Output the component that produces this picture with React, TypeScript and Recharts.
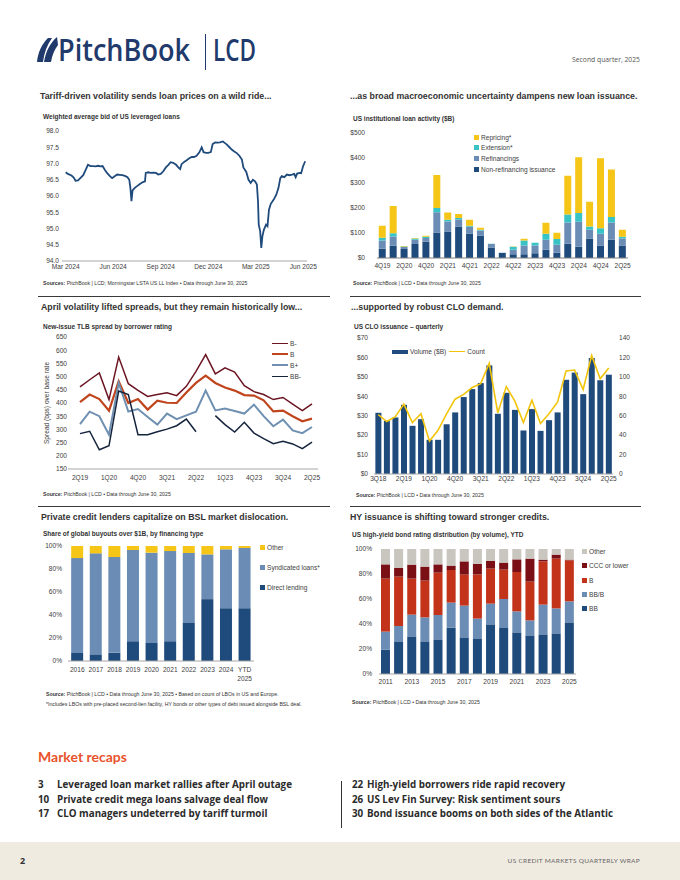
import React from "react"
import { Bar, BarChart, ComposedChart, Legend, Line, LineChart, XAxis, YAxis } from "recharts"

const ARIAL = "'Liberation Sans', Arial, Helvetica, sans-serif"
const HUMANIST = "Lato, 'Open Sans', sans-serif"
const OPEN = "'Open Sans', Lato, sans-serif"

const NAVY = "#1f4a7c"
const STEEL = "#6b8db5"
const GOLD = "#f5c518"
const TEAL = "#38c3c6"
const RED = "#c2331a"
const MAROON = "#7a1015"
const STONE = "#c9c5bf"
const INK = "#333333"
const TICK = { fontSize: 6.6, fill: "#404040", fontFamily: ARIAL }

// weighted average bid, x = weeks since 1 Mar 2024
const bidWeeks = [
  0, 0.6, 1.6, 2.2, 2.7, 3.4, 4.0, 4.8, 5.5, 6.1,
  6.8, 7.5, 8.2, 8.9, 9.5, 10.1, 10.7, 11.3, 12.1, 12.7,
  13.4, 14.1, 14.8, 15.5, 16.2, 16.9, 17.4, 17.7, 18.0, 18.3,
  18.9, 19.7, 20.3, 21.0, 21.7, 21.9, 22.6, 23.2, 24.0, 24.7,
  25.3, 26.0, 26.7, 27.4, 28.1, 28.7, 29.4, 30.2, 30.8, 31.3,
  31.7, 32.4, 33.1, 33.8, 34.5, 35.1, 35.8, 36.6, 37.2, 37.7,
  38.4, 39.0, 39.7, 40.2, 40.9, 41.5, 42.2, 43.0, 43.3, 44.1,
  44.8, 45.4, 46.1, 46.8, 47.5, 48.2, 48.6, 49.4, 50.0, 50.6,
  51.2, 51.8, 52.3, 52.6, 52.8, 53.2, 53.5, 53.8, 54.2, 54.8,
  55.2, 55.6, 56.1, 56.9, 57.6, 58.2, 58.7, 59.1, 59.8, 60.5,
  61.2, 61.9, 62.5, 62.9, 63.3, 64.0, 64.4, 64.9, 65.5,
]
const bidValues = [
  96.73, 96.68, 96.63, 96.57, 96.47, 96.48, 96.55, 96.64, 96.81, 96.96,
  96.92, 96.92, 96.91, 96.93, 96.91, 96.92, 96.81, 96.71, 96.61, 96.55,
  96.61, 96.66, 96.65, 96.64, 96.62, 96.58, 96.5, 96.25, 95.84, 96.17,
  96.25, 96.32, 96.37, 96.42, 96.45, 96.71, 96.73, 96.71, 96.72, 96.71,
  96.66, 96.68, 96.76, 96.88, 96.96, 97.04, 97.02, 96.96, 96.88, 96.83,
  96.98, 97.05, 97.1, 97.16, 97.2, 97.2, 97.24, 97.35, 97.5, 97.35,
  97.33, 97.33, 97.35, 97.6, 97.65, 97.64, 97.65, 97.68, 97.65, 97.58,
  97.5, 97.43, 97.37, 97.32, 97.24, 97.12, 96.88, 96.74, 96.5, 96.4,
  96.5, 96.45, 96.35, 95.84, 95.12, 94.91, 94.4, 94.76, 94.96, 95.12,
  95.07, 95.58, 95.76, 95.89, 96.04, 96.25, 96.55, 96.61, 96.58, 96.66,
  96.64, 96.66, 96.68, 96.58, 96.69, 96.71, 96.7, 96.91, 97.07,
]
const bidTickWeeks = [0, 13, 26, 39, 52, 65]
const bidTickLabels = ["Mar 2024", "Jun 2024", "Sep 2024", "Dec 2024", "Mar 2025", "Jun 2025"]
const bidAxisTicks = [94, 94.5, 95, 95.5, 96, 96.5, 97, 97.5, 98]

// US institutional loan activity ($B)
const loanQuarters = [
  "4Q19", "1Q20", "2Q20", "3Q20", "4Q20", "1Q21", "2Q21", "3Q21", "4Q21", "1Q22", "2Q22", "3Q22",
  "4Q22", "1Q23", "2Q23", "3Q23", "4Q23", "1Q24", "2Q24", "3Q24", "4Q24", "1Q25", "2Q25",
]
const nonRefinancing = [37, 49, 36, 56, 65, 102, 106, 126, 98, 90, 42, 20, 15, 15, 19, 33, 21, 57, 45, 78, 50, 73, 50]
const refinancings = [33, 37, 8, 17, 15, 81, 40, 28, 27, 20, 14, 1, 18, 35, 31, 40, 32, 85, 100, 35, 47, 69, 28]
const extensions = [11, 13, 2, 5, 5, 17, 7, 6, 4, 3, 1, 0, 12, 20, 11, 24, 23, 32, 35, 13, 22, 22, 7]
const repricings = [48, 109, 2, 2, 4, 132, 29, 16, 24, 8, 0, 0, 1, 7, 0, 44, 25, 155, 223, 99, 280, 190, 28]
const loanAxisTicks = [0, 100, 200, 300, 400, 500]

// new-issue TLB spread (bps)
const spreadQuarters = [
  "2Q19", "3Q19", "4Q19", "1Q20", "2Q20", "3Q20", "4Q20", "1Q21", "2Q21", "3Q21", "4Q21", "1Q22", "2Q22",
  "3Q22", "4Q22", "1Q23", "2Q23", "3Q23", "4Q23", "1Q24", "2Q24", "3Q24", "4Q24", "1Q25", "2Q25",
]
const spreadBMinus = [461, 488, 514, 413, 574, 473, 448, 425, 432, 439, 428, 463, 520, 583, 510, 533, 517, 466, 443, 432, 413, 421, 396, 371, 397]
const spreadB = [403, 432, 415, 371, 482, 400, 415, 375, 409, 401, 400, 440, 476, 504, 476, 459, 447, 430, 428, 410, 368, 371, 350, 331, 341]
const spreadBPlus = [320, 367, 350, 280, 476, 368, 377, 347, 318, 360, 339, 353, 367, 447, 372, 379, 370, 360, 394, 350, 312, 337, 296, 286, 309]
const spreadBBMinus: (number | null)[] = [284, 293, 223, 238, 445, 432, 280, 280, 291, 301, 314, 339, 291, null, 352, 318, 290, 327, 286, 265, 246, 255, 245, 227, 252]
const spreadAxisTicks = [150, 200, 250, 300, 350, 400, 450, 500, 550, 600, 650]

// US CLO issuance
const cloQuarters = [
  "3Q18", "4Q18", "1Q19", "2Q19", "3Q19", "4Q19", "1Q20", "2Q20", "3Q20", "4Q20", "1Q21", "2Q21", "3Q21", "4Q21",
  "1Q22", "2Q22", "3Q22", "4Q22", "1Q23", "2Q23", "3Q23", "4Q23", "1Q24", "2Q24", "3Q24", "4Q24", "1Q25", "2Q25",
]
const cloVolume = [31.5, 27.4, 29.1, 35.6, 24.8, 28.2, 17.6, 17.6, 25.6, 31.7, 39.6, 43.7, 46.8, 55.9, 31.0, 41.8, 33.0, 22.4, 33.4, 22.2, 27.7, 31.7, 48.5, 52.2, 41.1, 59.7, 48.2, 51.1]
const cloCount = [61, 54, 59, 72, 53, 62, 34, 45, 62, 77, 82, 89, 93, 114, 63, 90, 75, 53, 76, 52, 62, 74, 106, 107, 87, 122, 98, 109]
const cloVolumeTicks = [0, 10, 20, 30, 40, 50, 60, 70]
const cloCountTicks = [0, 20, 40, 60, 80, 100, 120, 140]

// share of global buyouts over $1B (%)
const buyoutYears = ["2016", "2017", "2018", "2019", "2020", "2021", "2022", "2023", "2024", "YTD 2025"]
const directLending = [7.0, 5.8, 7.3, 17.2, 15.7, 17.2, 33.1, 53.8, 45.9, 45.9]
const syndicatedLoans = [82.5, 87.8, 83.1, 79.3, 78.5, 78.4, 60.8, 38.9, 51.2, 52.4]
const otherFinancing = [10.5, 6.4, 9.6, 3.5, 5.8, 4.4, 6.1, 7.3, 2.9, 1.7]

// US high-yield rating distribution (%)
const hyYears = ["2011", "2012", "2013", "2014", "2015", "2016", "2017", "2018", "2019", "2020", "2021", "2022", "2023", "2024", "2025"]
const hyBB = [19.5, 26.1, 30.1, 26.1, 27.7, 37.1, 29.3, 28.5, 39.7, 37.3, 33.3, 30.9, 31.7, 32.5, 41.3]
const hyBBB = [14.4, 12.3, 17.4, 19.2, 19.5, 20.0, 25.4, 15.8, 16.6, 22.7, 16.8, 12.0, 23.8, 20.0, 16.8]
const hyB = [42.4, 39.5, 28.8, 29.4, 33.9, 26.1, 24.8, 35.4, 28.0, 23.5, 31.5, 31.0, 34.6, 39.8, 32.8]
const hyCCC = [11.4, 6.9, 11.2, 11.2, 6.6, 3.5, 10.6, 8.3, 6.1, 5.6, 10.1, 18.4, 1.4, 3.2, 0.6]
const hyOther = [12.3, 15.2, 12.5, 14.1, 12.3, 13.3, 9.9, 12.0, 9.6, 10.9, 8.3, 7.7, 8.5, 4.5, 8.5]
const shareTicks = [0, 20, 40, 60, 80, 100]

const recapLeft = [
  ["3", "Leveraged loan market rallies after April outage"],
  ["10", "Private credit mega loans salvage deal flow"],
  ["17", "CLO managers undeterred by tariff turmoil"],
]
const recapRight = [
  ["22", "High-yield borrowers ride rapid recovery"],
  ["26", "US Lev Fin Survey: Risk sentiment sours"],
  ["30", "Bond issuance booms on both sides of the Atlantic"],
]

function Text({ x, y, size, bold, color = INK, font = ARIAL, spacing, children }: any) {
  return (
    <div
      style={{
        position: "absolute",
        left: x,
        top: y - size * 0.6,
        fontSize: size,
        lineHeight: `${size * 1.2}px`,
        fontWeight: bold ? 700 : 400,
        color,
        fontFamily: font,
        letterSpacing: spacing,
        whiteSpace: "nowrap",
      }}
    >
      {children}
    </div>
  )
}

function Place({ x, y, children }: any) {
  return <div style={{ position: "absolute", left: x, top: y }}>{children}</div>
}

function Rule({ x1, x2, y }: any) {
  return <div style={{ position: "absolute", left: x1, top: y, width: x2 - x1, height: 1, background: "#3a3a3a" }} />
}

function SwatchLegend({ payload, order, rowHeight }: any) {
  const items = order.map((key: string) => (payload || []).find((p: any) => p.dataKey === key)).filter(Boolean)
  return (
    <div style={{ fontFamily: ARIAL, fontSize: 6.6, color: "#404040" }}>
      {items.map((entry: any) => (
        <div key={entry.dataKey} style={{ display: "flex", alignItems: "center", height: rowHeight }}>
          <span style={{ width: 5, height: 5, background: entry.color, marginRight: 2, flex: "none" }} />
          <span style={{ whiteSpace: "nowrap" }}>{entry.value}</span>
        </div>
      ))}
    </div>
  )
}

const spreadLineWidths: Record<string, number> = { bMinus: 1.5, b: 2.2, bPlus: 2, bbMinus: 1.5 }

function LineKey({ payload, order }: any) {
  const items = order.map((key: string) => (payload || []).find((p: any) => p.dataKey === key)).filter(Boolean)
  return (
    <div style={{ fontFamily: ARIAL, fontSize: 6.6, color: "#404040" }}>
      {items.map((entry: any) => (
        <div key={entry.dataKey} style={{ display: "flex", alignItems: "center", height: 11 }}>
          <span style={{ width: 16, height: 0, borderTop: `${spreadLineWidths[entry.dataKey]}px solid ${entry.color}`, marginRight: 2 }} />
          <span>{entry.value}</span>
        </div>
      ))}
    </div>
  )
}

function CloKey({ payload }: any) {
  const volume = (payload || []).find((p: any) => p.dataKey === "volume")
  const count = (payload || []).find((p: any) => p.dataKey === "count")
  return (
    <div style={{ display: "flex", alignItems: "center", fontFamily: ARIAL, fontSize: 6.6, color: "#404040" }}>
      {volume && (
        <>
          <span style={{ width: 16, height: 4, background: volume.color, marginRight: 2 }} />
          <span style={{ marginRight: 3 }}>{volume.value}</span>
        </>
      )}
      {count && (
        <>
          <span style={{ width: 16, height: 0, borderTop: `1.5px solid ${count.color}`, marginRight: 2 }} />
          <span>{count.value}</span>
        </>
      )}
    </div>
  )
}

function BidChart() {
  const data = bidWeeks.map((week, i) => ({ week, bid: bidValues[i] }))
  return (
    <LineChart width={290} height={155} data={data} margin={{ top: 9, right: 13, bottom: 0, left: 0 }}>
      <XAxis
        type="number"
        dataKey="week"
        domain={[-1, 66]}
        ticks={bidTickWeeks}
        interval={0}
        tickFormatter={(w: number) => bidTickLabels[bidTickWeeks.indexOf(w)]}
        tick={TICK}
        tickLine={false}
        tickSize={0}
        tickMargin={3}
        stroke="#a6a6a6"
        height={16}
      />
      <YAxis
        domain={[94, 98]}
        ticks={bidAxisTicks}
        interval={0}
        tickFormatter={(v: number) => v.toFixed(1)}
        tick={TICK}
        axisLine={false}
        tickLine={false}
        tickSize={0}
        tickMargin={3}
        width={32}
      />
      <Line type="linear" dataKey="bid" stroke={NAVY} strokeWidth={1.8} dot={false} isAnimationActive={false} />
    </LineChart>
  )
}

function LoanActivityChart() {
  const data = loanQuarters.map((quarter, i) => ({
    quarter,
    nonRefinancing: nonRefinancing[i],
    refinancings: refinancings[i],
    extensions: extensions[i],
    repricings: repricings[i],
  }))
  return (
    <BarChart width={300} height={149} data={data} margin={{ top: 8, right: 17, bottom: 0, left: 0 }} barCategoryGap="16%">
      <XAxis dataKey="quarter" interval={1} tick={TICK} tickLine={false} tickSize={0} tickMargin={5} stroke="#808080" height={16} />
      <YAxis
        domain={[0, 500]}
        ticks={loanAxisTicks}
        interval={0}
        tickFormatter={(v: number) => `$${v}`}
        tick={TICK}
        axisLine={false}
        tickLine={false}
        tickSize={0}
        tickMargin={12}
        width={32}
      />
      <Legend
        layout="vertical"
        align="center"
        verticalAlign="middle"
        wrapperStyle={{ left: 129, top: 7, width: 120, height: 44 }}
        content={(props: any) => (
          <SwatchLegend payload={props.payload} order={["repricings", "extensions", "refinancings", "nonRefinancing"]} rowHeight={10.6} />
        )}
      />
      <Bar dataKey="nonRefinancing" name="Non-refinancing issuance" stackId="loans" fill={NAVY} isAnimationActive={false} />
      <Bar dataKey="refinancings" name="Refinancings" stackId="loans" fill={STEEL} isAnimationActive={false} />
      <Bar dataKey="extensions" name="Extension*" stackId="loans" fill={TEAL} isAnimationActive={false} />
      <Bar dataKey="repricings" name="Repricing*" stackId="loans" fill={GOLD} isAnimationActive={false} />
    </BarChart>
  )
}

function SpreadChart() {
  const data = spreadQuarters.map((quarter, i) => ({
    quarter,
    bMinus: spreadBMinus[i],
    b: spreadB[i],
    bPlus: spreadBPlus[i],
    bbMinus: spreadBBMinus[i],
  }))
  return (
    <LineChart width={300} height={155} data={data} margin={{ top: 7, right: 12, bottom: 0, left: 0 }}>
      <XAxis
        dataKey="quarter"
        scale="point"
        padding={{ left: 12, right: 6 }}
        interval={2}
        tick={TICK}
        tickLine={false}
        tickSize={0}
        tickMargin={6}
        stroke="#a6a6a6"
        height={16}
      />
      <YAxis
        domain={[150, 650]}
        ticks={spreadAxisTicks}
        interval={0}
        tick={TICK}
        axisLine={false}
        tickLine={false}
        tickSize={0}
        tickMargin={1}
        width={38}
        label={{
          value: "Spread (bps) over base rate",
          angle: -90,
          position: "insideLeft",
          offset: 17,
          style: { textAnchor: "middle", fontSize: 6.6, fill: "#404040", fontFamily: ARIAL },
        }}
      />
      <Legend
        layout="vertical"
        align="center"
        verticalAlign="middle"
        wrapperStyle={{ left: 242, top: 7.5, width: 50, height: 44 }}
        content={(props: any) => <LineKey payload={props.payload} order={["bMinus", "b", "bPlus", "bbMinus"]} />}
      />
      <Line type="linear" dataKey="bMinus" name="B-" stroke="#6b1522" strokeWidth={1.5} dot={false} isAnimationActive={false} />
      <Line type="linear" dataKey="b" name="B" stroke="#c0451d" strokeWidth={2.2} dot={false} isAnimationActive={false} />
      <Line type="linear" dataKey="bPlus" name="B+" stroke="#6f90b1" strokeWidth={2} dot={false} isAnimationActive={false} />
      <Line type="linear" dataKey="bbMinus" name="BB-" stroke="#15243d" strokeWidth={1.5} dot={false} isAnimationActive={false} />
    </LineChart>
  )
}

function CloChart() {
  const data = cloQuarters.map((quarter, i) => ({ quarter, volume: cloVolume[i], count: cloCount[i] }))
  return (
    <ComposedChart width={300} height={157} data={data} margin={{ top: 5, right: 0, bottom: 0, left: 0 }} barCategoryGap="16%">
      <XAxis dataKey="quarter" interval={2} tick={TICK} tickLine={false} tickSize={0} tickMargin={2.5} stroke="#a6a6a6" height={16} />
      <YAxis
        yAxisId="volume"
        domain={[0, 70]}
        ticks={cloVolumeTicks}
        interval={0}
        tickFormatter={(v: number) => `$${v}`}
        tick={TICK}
        axisLine={false}
        tickLine={false}
        tickSize={0}
        tickMargin={6}
        width={29}
      />
      <YAxis
        yAxisId="count"
        orientation="right"
        domain={[0, 140]}
        ticks={cloCountTicks}
        interval={0}
        tick={TICK}
        axisLine={false}
        tickLine={false}
        tickSize={0}
        tickMargin={6}
        width={32}
      />
      <Legend
        layout="vertical"
        align="center"
        verticalAlign="middle"
        wrapperStyle={{ left: 47, top: 15, width: 120, height: 9 }}
        content={(props: any) => <CloKey payload={props.payload} />}
      />
      <Bar yAxisId="volume" dataKey="volume" name="Volume ($B)" fill={NAVY} isAnimationActive={false} />
      <Line yAxisId="count" type="linear" dataKey="count" name="Count" stroke="#f2c40c" strokeWidth={1.6} dot={false} isAnimationActive={false} />
    </ComposedChart>
  )
}

function BuyoutTick({ x, y, payload }: any) {
  const lines = String(payload.value).split(" ")
  return (
    <text x={x} y={y} textAnchor="middle" fontSize={6.6} fill="#404040" fontFamily={ARIAL}>
      {lines.map((line, i) => (
        <tspan key={line} x={x} dy={i === 0 ? "0.71em" : "1.35em"}>
          {line}
        </tspan>
      ))}
    </text>
  )
}

function BuyoutChart() {
  const data = buyoutYears.map((year, i) => ({
    year,
    direct: directLending[i],
    syndicated: syndicatedLoans[i],
    other: otherFinancing[i],
  }))
  return (
    <BarChart width={300} height={147} data={data} margin={{ top: 6, right: 76, bottom: 0, left: 0 }} barCategoryGap="17%">
      <XAxis dataKey="year" interval={0} tick={<BuyoutTick />} tickLine={false} tickSize={0} tickMargin={6} stroke="#a6a6a6" height={26} />
      <YAxis
        domain={[0, 100]}
        ticks={shareTicks}
        interval={0}
        tickFormatter={(v: number) => `${v}%`}
        tick={TICK}
        axisLine={false}
        tickLine={false}
        tickSize={0}
        tickMargin={6}
        width={38}
      />
      <Legend
        layout="vertical"
        align="center"
        verticalAlign="middle"
        wrapperStyle={{ left: 230, top: -2.7, width: 70, height: 60 }}
        content={(props: any) => <SwatchLegend payload={props.payload} order={["other", "syndicated", "direct"]} rowHeight={20} />}
      />
      <Bar dataKey="direct" name="Direct lending" stackId="share" fill={NAVY} isAnimationActive={false} />
      <Bar dataKey="syndicated" name="Syndicated loans*" stackId="share" fill={STEEL} isAnimationActive={false} />
      <Bar dataKey="other" name="Other" stackId="share" fill={GOLD} isAnimationActive={false} />
    </BarChart>
  )
}

function HighYieldChart() {
  const data = hyYears.map((year, i) => ({
    year,
    bb: hyBB[i],
    bbb: hyBBB[i],
    b: hyB[i],
    ccc: hyCCC[i],
    other: hyOther[i],
  }))
  return (
    <BarChart width={300} height={147} data={data} margin={{ top: 6, right: 69, bottom: 0, left: 0 }} barCategoryGap="15%">
      <XAxis dataKey="year" interval={1} tick={TICK} tickLine={false} tickSize={0} tickMargin={5.5} stroke="#a6a6a6" height={16} />
      <YAxis
        domain={[0, 100]}
        ticks={shareTicks}
        interval={0}
        tickFormatter={(v: number) => `${v}%`}
        tick={TICK}
        axisLine={false}
        tickLine={false}
        tickSize={0}
        tickMargin={7}
        width={34}
      />
      <Legend
        layout="vertical"
        align="center"
        verticalAlign="middle"
        wrapperStyle={{ left: 237, top: 1.6, width: 63, height: 72 }}
        content={(props: any) => <SwatchLegend payload={props.payload} order={["other", "ccc", "b", "bbb", "bb"]} rowHeight={14.2} />}
      />
      <Bar dataKey="bb" name="BB" stackId="hy" fill={NAVY} isAnimationActive={false} />
      <Bar dataKey="bbb" name="BB/B" stackId="hy" fill={STEEL} isAnimationActive={false} />
      <Bar dataKey="b" name="B" stackId="hy" fill={RED} isAnimationActive={false} />
      <Bar dataKey="ccc" name="CCC or lower" stackId="hy" fill={MAROON} isAnimationActive={false} />
      <Bar dataKey="other" name="Other" stackId="hy" fill={STONE} isAnimationActive={false} />
    </BarChart>
  )
}

function Header() {
  const brand = "#1f3a6b"
  return (
    <svg width={680} height={80} style={{ position: "absolute", left: 0, top: 0 }}>
      <path d="M37,62 C38,52 42,44 48,38 L52,38 C47,45 44,53 43,62 Z" fill={brand} />
      <path d="M44,62 C46,51 50,43 57,37 L58,45 C54,50 52,56 51,62 Z" fill={brand} />
      <text x={58} y={61} fontSize={30} fontWeight={600} fontFamily={OPEN} fill={brand} textLength={132} lengthAdjust="spacingAndGlyphs">
        PitchBook
      </text>
      <line x1={205.5} x2={205.5} y1={34} y2={70} stroke={brand} strokeWidth={1} />
      <text x={213} y={61} fontSize={30} fontWeight={600} fontFamily={OPEN} fill={brand} textLength={43} lengthAdjust="spacingAndGlyphs">
        LCD
      </text>
      <text x={572} y={62} fontSize={7} fontFamily={OPEN} fill="#555" textLength={68} lengthAdjust="spacingAndGlyphs">
        Second quarter, 2025
      </text>
    </svg>
  )
}

function Source({ x, y, label, children }: any) {
  return (
    <Text x={x} y={y} size={5.2} color="#333">
      <b>{label}</b> {children}
    </Text>
  )
}

export default function App() {
  return (
    <div style={{ position: "relative", width: 680, height: 880, overflow: "hidden", background: "#fff", fontFamily: ARIAL }}>
      <style>{"body{margin:0}"}</style>
      <Header />

      <Text x={40} y={96} size={8.8} bold>Tariff-driven volatility sends loan prices on a wild ride...</Text>
      <Text x={350} y={96} size={8.8} bold>...as broad macroeconomic uncertainty dampens new loan issuance.</Text>
      <Text x={43} y={117} size={6.5} bold>Weighted average bid of US leveraged loans</Text>
      <Text x={353} y={119} size={6.5} bold>US institutional loan activity ($B)</Text>
      <Place x={30} y={122}><BidChart /></Place>
      <Place x={345} y={125}><LoanActivityChart /></Place>
      <Source x={43} y={283} label="Sources:">PitchBook | LCD; Morningstar LSTA US LL Index • Data through June 30, 2025</Source>
      <Source x={353} y={283} label="Source:">PitchBook | LCD • Data through June 30, 2025</Source>

      <Rule x1={38} x2={330} y={296} />
      <Rule x1={350} x2={641} y={296} />
      <Text x={41} y={307} size={8.8} bold>April volatility lifted spreads, but they remain historically low...</Text>
      <Text x={351} y={307} size={8.8} bold>...supported by robust CLO demand.</Text>
      <Text x={43} y={327} size={6.5} bold>New-issue TLB spread by borrower rating</Text>
      <Text x={354} y={327} size={6.5} bold>US CLO issuance – quarterly</Text>
      <Place x={30} y={330}><SpreadChart /></Place>
      <Place x={345} y={333}><CloChart /></Place>
      <Source x={43} y={494} label="Source:">PitchBook | LCD • Data through June 30, 2025</Source>
      <Source x={356} y={495} label="Source:">PitchBook | LCD • Data through June 30, 2025</Source>

      <Rule x1={38} x2={330} y={506} />
      <Rule x1={350} x2={641} y={506} />
      <Text x={41} y={517} size={8.8} bold>Private credit lenders capitalize on BSL market dislocation.</Text>
      <Text x={350} y={517} size={8.8} bold>HY issuance is shifting toward stronger credits.</Text>
      <Text x={43} y={534} size={6.5} bold>Share of global buyouts over $1B, by financing type</Text>
      <Text x={352} y={535} size={6.5} bold>US high-yield bond rating distribution (by volume), YTD</Text>
      <Place x={30} y={540}><BuyoutChart /></Place>
      <Place x={345} y={543}><HighYieldChart /></Place>
      <Source x={46} y={694} label="Source:">PitchBook | LCD • Data through June 30, 2025 • Based on count of LBOs in US and Europe.</Source>
      <Text x={46} y={704} size={5.2} color="#333">*Includes LBOs with pre-placed second-lien facility, HY bonds or other types of debt issued alongside BSL deal.</Text>
      <Source x={352} y={702} label="Source:">PitchBook | LCD • Data through June 30, 2025</Source>

      <Text x={38} y={757} size={14} bold color="#e8532b" font={HUMANIST}>Market recaps</Text>
      {recapLeft.map(([page, title], i) => (
        <React.Fragment key={page}>
          <Text x={38} y={785 + i * 14.5} size={9.8} bold color="#2b2b2b" font={OPEN}>{page}</Text>
          <Text x={57} y={785 + i * 14.5} size={9.8} bold color="#2b2b2b" font={OPEN}>{title}</Text>
        </React.Fragment>
      ))}
      <div style={{ position: "absolute", left: 341, top: 781, width: 1, height: 47, background: "#333" }} />
      {recapRight.map(([page, title], i) => (
        <React.Fragment key={page}>
          <Text x={352} y={785 + i * 14.5} size={9.8} bold color="#2b2b2b" font={OPEN}>{page}</Text>
          <Text x={367} y={785 + i * 14.5} size={9.8} bold color="#2b2b2b" font={OPEN}>{title}</Text>
        </React.Fragment>
      ))}

      <div style={{ position: "absolute", left: 0, top: 842, width: 680, height: 38, background: "#f0ebe1" }} />
      <Text x={20} y={861} size={9} bold color="#333" font={OPEN}>2</Text>
      <div
        style={{
          position: "absolute",
          right: 40,
          top: 857,
          fontSize: 6.5,
          lineHeight: "8px",
          letterSpacing: 0.3,
          color: "#666",
          fontFamily: HUMANIST,
          whiteSpace: "nowrap",
        }}
      >
        US CREDIT MARKETS QUARTERLY WRAP
      </div>
    </div>
  )
}
